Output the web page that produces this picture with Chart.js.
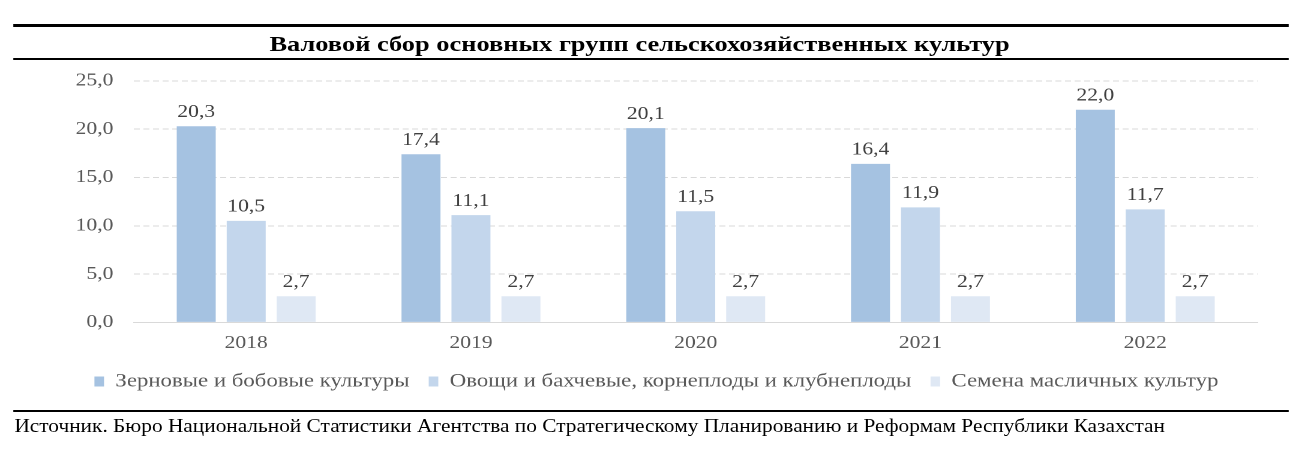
<!DOCTYPE html>
<html lang="ru">
<head>
<meta charset="utf-8">
<script src="https://cdn.jsdelivr.net/npm/chart.js@4.4.1/dist/chart.umd.min.js"></script>
<style>
  html, body { margin: 0; padding: 0; background: #fff; }
  body { width: 1296px; height: 452px; position: relative; overflow: hidden; }
  /* o original está esticado na horizontal (~1.2), então desenho em 1080px e estico */
  #pagina { position: absolute; left: 0; top: 0; width: 1080px; height: 452px; transform: scaleX(1.2); transform-origin: 0 0; font-family: "Liberation Serif", "Times New Roman", serif; }
  .rule { position: absolute; left: 11px; width: 1063px; background: #000; }
  #title { position: absolute; top: 31px; left: 0; width: 1066px; text-align: center; font-weight: bold; font-size: 22px; color: #000; }
  #wrap { position: absolute; left: 0; top: 53px; width: 1080px; height: 352px; }
  #source { position: absolute; left: 12px; top: 416px; font-size: 17.8px; color: #000; white-space: nowrap; }
</style>
</head>
<body>
<div id="pagina">
  <div class="rule" style="top:24px;height:3px"></div>
  <div id="title">Валовой сбор основных групп сельскохозяйственных культур</div>
  <div class="rule" style="top:58px;height:2px"></div>
  <div id="wrap"><canvas id="grafico"></canvas></div>
  <div class="rule" style="top:410px;height:2px"></div>
  <div id="source">Источник. Бюро Национальной Статистики Агентства по Стратегическому Планированию и Реформам Республики Казахстан</div>
</div>

<script>
const anos = ["2018", "2019", "2020", "2021", "2022"];
const zernovye = [20.3, 17.4, 20.1, 16.4, 22.0];
const ovoshchi = [10.5, 11.1, 11.5, 11.9, 11.7];
const semena = [2.7, 2.7, 2.7, 2.7, 2.7];
const nomes = [
  "Зерновые и бобовые культуры",
  "Овощи и бахчевые, корнеплоды и клубнеплоды",
  "Семена масличных культур"
];
const cores = ["#a5c2e1", "#c3d6ec", "#dfe8f4"];

const fonte = "'Liberation Serif', 'Times New Roman', serif";

function fmt(v) {
  return v.toFixed(1).replace(".", ",");
}

// rótulos em cima das barras
const rotulos = {
  id: "rotulos",
  afterDatasetsDraw(chart) {
    const ctx = chart.ctx;
    ctx.save();
    ctx.font = "18px " + fonte;
    ctx.fillStyle = "#404040";
    ctx.textAlign = "center";
    ctx.textBaseline = "bottom";
    chart.data.datasets.forEach((ds, i) => {
      chart.getDatasetMeta(i).data.forEach((bar, j) => {
        ctx.fillText(fmt(ds.data[j]), bar.x, bar.y - 5);
      });
    });
    ctx.restore();
  }
};

const ctx = document.getElementById("grafico").getContext("2d");
new Chart(ctx, {
  type: "bar",
  data: {
    labels: anos,
    datasets: [
      { label: nomes[0], data: zernovye, backgroundColor: cores[0] },
      { label: nomes[1], data: ovoshchi, backgroundColor: cores[1] },
      { label: nomes[2], data: semena, backgroundColor: cores[2] }
    ]
  },
  options: {
    responsive: true,
    maintainAspectRatio: false,
    animation: false,
    devicePixelRatio: 2,
    datasets: { bar: { categoryPercentage: 0.667, barPercentage: 0.78 } },
    layout: { padding: { left: 46, right: 32, top: 2, bottom: 4 } },
    plugins: {
      legend: {
        position: "bottom",
        labels: {
          boxWidth: 8, boxHeight: 10, padding: 16,
          color: "#595959",
          font: { family: fonte, size: 19 }
        }
      },
      tooltip: { enabled: false }
    },
    scales: {
      x: {
        grid: { display: false },
        border: { display: true, color: "#d9d9d9", width: 1 },
        ticks: { color: "#595959", font: { family: fonte, size: 18 }, padding: 2 }
      },
      y: {
        min: 0, max: 25,
        ticks: {
          stepSize: 5, color: "#595959", padding: 17,
          font: { family: fonte, size: 18 },
          callback: v => fmt(v)
        },
        grid: { color: "#d9d9d9", drawTicks: false },
        border: { display: false, dash: [5, 3] }
      }
    }
  },
  plugins: [rotulos]
});
</script>
</body>
</html>
